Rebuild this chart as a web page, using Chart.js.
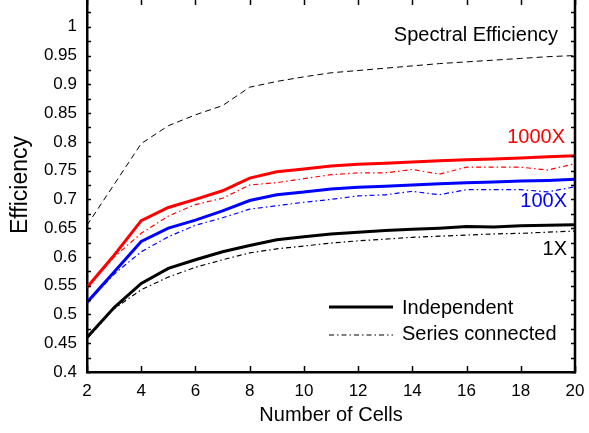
<!DOCTYPE html>
<html>
<head>
<meta charset="utf-8">
<script src="https://cdn.jsdelivr.net/npm/chart.js@4.4.0/dist/chart.umd.min.js"></script>
<style>
    html, body { margin: 0; padding: 0; background: #fff; overflow: hidden; }
    #wrap { width: 589px; height: 433px; overflow: hidden; }
    #chart { display: block; margin-top: -2px; }
</style>
</head>
<body>
<div id="wrap"><canvas id="chart" width="589" height="435"></canvas></div>
<script>
// Data
const cells = [2, 3, 4, 5, 6, 7, 8, 9, 10, 11, 12, 13, 14, 15, 16, 17, 18, 19, 20];

const spectral = [0.655, 0.726, 0.797, 0.828, 0.847, 0.863, 0.895, 0.905, 0.913, 0.920,
                  0.924, 0.928, 0.932, 0.936, 0.939, 0.942, 0.945, 0.948, 0.950];

const indep1000 = [0.547, 0.603, 0.663, 0.686, 0.700, 0.715, 0.737, 0.748, 0.753, 0.758,
                   0.761, 0.763, 0.765, 0.767, 0.769, 0.770, 0.772, 0.774, 0.776];
const series1000 = [0.547, 0.600, 0.641, 0.671, 0.691, 0.702, 0.725, 0.729, 0.736, 0.743,
                    0.746, 0.746, 0.752, 0.744, 0.756, 0.756, 0.756, 0.751, 0.762];

const indep100 = [0.521, 0.574, 0.627, 0.650, 0.664, 0.680, 0.698, 0.708, 0.713, 0.718,
                  0.721, 0.723, 0.725, 0.727, 0.729, 0.730, 0.732, 0.733, 0.735];
const series100 = [0.520, 0.570, 0.609, 0.635, 0.655, 0.668, 0.683, 0.689, 0.695, 0.700,
                   0.706, 0.708, 0.714, 0.708, 0.717, 0.717, 0.717, 0.713, 0.722];

const indep1 = [0.460, 0.512, 0.554, 0.580, 0.595, 0.609, 0.620, 0.630, 0.635, 0.640,
                0.643, 0.646, 0.648, 0.650, 0.653, 0.652, 0.654, 0.655, 0.656];
const series1 = [0.458, 0.510, 0.543, 0.565, 0.582, 0.595, 0.607, 0.614, 0.619, 0.624,
                 0.628, 0.631, 0.634, 0.636, 0.638, 0.640, 0.641, 0.643, 0.645];

const xTicks = [2, 4, 6, 8, 10, 12, 14, 16, 18, 20];
const yTicks = [0.4, 0.45, 0.5, 0.55, 0.6, 0.65, 0.7, 0.75, 0.8, 0.85, 0.9, 0.95, 1];
const yMinorTicks = [0.425, 0.475, 0.525, 0.575, 0.625, 0.675, 0.725, 0.775, 0.825,
                     0.875, 0.925, 0.975, 1.025];

const legendLabels = ['Independent', 'Series connected'];
const curveLabels = [
    { text: 'Spectral Efficiency', x: 20, y: 0.984, dx: -17, color: '#000' },
    { text: '1000X', x: 20, y: 0.807, dx: -10, color: '#ff0000' },
    { text: '100X', x: 20, y: 0.696, dx: -8, color: '#0000ff' },
    { text: '1X', x: 20, y: 0.613, dx: -8, color: '#000' }
];

const FONT = "'Liberation Sans', Arial, Helvetica, sans-serif";
const DASH_DOT = [5, 3, 1.5, 3];

const toPoints = arr => arr.map((v, i) => ({ x: cells[i], y: v }));

// Inward tick marks, right axis line and the in-plot texts
const framePlugin = {
    id: 'frame',
    afterDatasetsDraw(chart) {
        const { ctx, chartArea: a, scales: { x, y } } = chart;
        ctx.save();
        ctx.strokeStyle = '#000';

        // right axis line
        ctx.lineWidth = 2.5;
        ctx.beginPath();
        ctx.moveTo(a.right, a.top);
        ctx.lineTo(a.right, a.bottom + 1.25);
        ctx.stroke();

        // y ticks on both sides
        ctx.lineWidth = 1.5;
        ctx.beginPath();
        yTicks.concat(yMinorTicks).forEach(v => {
            const py = Math.round(y.getPixelForValue(v)) + 0.5;
            ctx.moveTo(a.left, py); ctx.lineTo(a.left + 4, py);
            ctx.moveTo(a.right, py); ctx.lineTo(a.right - 4, py);
        });
        // x ticks top and bottom
        xTicks.forEach(v => {
            const px = Math.round(x.getPixelForValue(v)) + 0.5;
            ctx.moveTo(px, a.bottom); ctx.lineTo(px, a.bottom - 6);
            ctx.moveTo(px, a.top); ctx.lineTo(px, a.top + 7);
        });
        ctx.stroke();

        // curve labels
        ctx.font = '20px ' + FONT;
        ctx.textAlign = 'right';
        ctx.textBaseline = 'middle';
        curveLabels.forEach(l => {
            ctx.fillStyle = l.color;
            ctx.fillText(l.text, x.getPixelForValue(l.x) + l.dx, y.getPixelForValue(l.y));
        });

        // legend
        const lx = a.right - 246, ly = a.bottom - 65;
        ctx.lineWidth = 3;
        ctx.setLineDash([]);
        ctx.beginPath(); ctx.moveTo(lx, ly); ctx.lineTo(lx + 64, ly); ctx.stroke();
        ctx.lineWidth = 1.2;
        ctx.setLineDash(DASH_DOT);
        ctx.beginPath(); ctx.moveTo(lx, ly + 28); ctx.lineTo(lx + 64, ly + 28); ctx.stroke();
        ctx.setLineDash([]);
        ctx.fillStyle = '#000';
        ctx.textAlign = 'left';
        ctx.fillText(legendLabels[0], lx + 73, ly + 1);
        ctx.fillText(legendLabels[1], lx + 73, ly + 27);
        ctx.restore();
    }
};

function solid(data, color) {
    return { data: toPoints(data), borderColor: color, borderWidth: 3, pointRadius: 0, tension: 0 };
}
function dashDot(data, color) {
    return { data: toPoints(data), borderColor: color, borderWidth: 1.2, borderDash: DASH_DOT, pointRadius: 0, tension: 0 };
}

// stop the scales from adding their own label overhang to the layout
const noPad = s => { s.paddingTop = 0; s.paddingBottom = 0; s.paddingLeft = 0; s.paddingRight = 0; };

new Chart(document.getElementById('chart'), {
    type: 'line',
    data: {
        datasets: [
            { data: toPoints(spectral), borderColor: '#000', borderWidth: 1, borderDash: [6, 4], pointRadius: 0, tension: 0 },
            dashDot(series1, '#000'),
            solid(indep1, '#000'),
            dashDot(series100, '#0000ff'),
            solid(indep100, '#0000ff'),
            dashDot(series1000, '#ff0000'),
            solid(indep1000, '#ff0000')
        ]
    },
    options: {
        responsive: false,
        animation: false,
        layout: { padding: { top: 0, right: 14, left: 0, bottom: 0 } },
        plugins: { legend: { display: false }, tooltip: { enabled: false } },
        scales: {
            x: {
                type: 'linear',
                min: 2, max: 20,
                afterBuildTicks: s => { s.ticks = xTicks.map(v => ({ value: v })); },
                afterFit: s => { s.height = 61; noPad(s); },
                grid: { display: false, drawTicks: false },
                border: { display: true, color: '#000', width: 2.5 },
                ticks: { color: '#000', font: { family: FONT, size: 17 }, padding: 9, maxRotation: 0 },
                title: { display: true, text: 'Number of Cells', color: '#000', font: { family: FONT, size: 20 }, padding: { top: 0, bottom: 6 } }
            },
            y: {
                min: 0.4, max: 1.05,
                afterBuildTicks: s => { s.ticks = yTicks.map(v => ({ value: v })); },
                afterFit: s => { s.width = 87; noPad(s); },
                grid: { display: false, drawTicks: false },
                border: { display: true, color: '#000', width: 2.5 },
                ticks: { color: '#000', font: { family: FONT, size: 17 }, padding: 10, callback: v => String(+v.toFixed(2)) },
                title: { display: true, text: 'Efficiency', color: '#000', font: { family: FONT, size: 23 }, padding: { top: 7, bottom: 0 } }
            }
        }
    },
    plugins: [framePlugin]
});
</script>
</body>
</html>
